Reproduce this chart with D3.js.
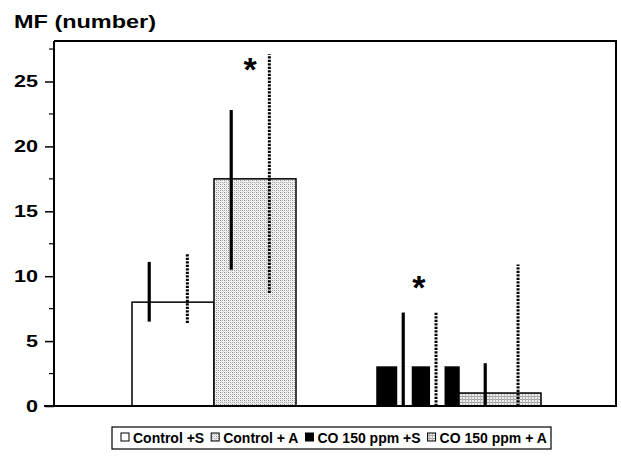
<!DOCTYPE html>
<html>
<head>
<meta charset="utf-8">
<script src="https://cdn.jsdelivr.net/npm/d3@7/dist/d3.min.js"></script>
<style>
  html, body { margin: 0; padding: 0; background: #fff; }
  svg { display: block; font-family: "Liberation Sans", Arial, sans-serif; font-weight: bold; }
</style>
</head>
<body>
<svg id="chart" width="621" height="458"></svg>
<script>
// Groups and series
const groups = ["Control", "CO 150 ppm"];
const series = ["S", "A"];
const legendLabels = ["Control +S", "Control + A", "CO 150 ppm +S", "CO 150 ppm + A"];

// Mean MF count per group, for +S and +A
const valuesS = [8, 3];
const valuesA = [17.5, 1];

// Error ranges (solid line), low/high
const solidLoS = [6.5, 0];
const solidHiS = [11.1, 7.2];
const solidLoA = [10.5, 0];
const solidHiA = [22.8, 3.3];

// Error ranges (dotted line), low/high
const dotLoS = [6.4, 0];
const dotHiS = [11.7, 7.25];
const dotLoA = [8.7, 0];
const dotHiA = [27.1, 10.9];

// Significance marks: group, level
const starGroups = ["Control", "CO 150 ppm"];
const starLevels = [26.3, 9.5];

const yTicks = [0, 5, 10, 15, 20, 25];
const yMinorTicks = [2.5, 7.5, 12.5, 17.5, 22.5, 27.5];

// Layout
const plot = { left: 54, right: 616, top: 41, bottom: 406 };
const errOffset = { "Control": [0.21, 0.675], "CO 150 ppm": [0.32, 0.72] };

const svg = d3.select("#chart");
const defs = svg.append("defs");

// Light stipple used for the +A series
const pat = defs.append("pattern").attr("id", "stipple")
  .attr("patternUnits", "userSpaceOnUse").attr("width", 4).attr("height", 4);
pat.append("rect").attr("width", 4).attr("height", 4).attr("fill", "#f4f4f4");
[[0, 0, "#8c8c8c"], [2, 0, "#b8b8b8"], [0, 2, "#a8a8a8"], [2, 2, "#9c9c9c"], [1, 1, "#dcdcdc"], [3, 3, "#d0d0d0"]]
  .forEach(([px, py, c]) => pat.append("rect").attr("x", px).attr("y", py)
    .attr("width", 1).attr("height", 1).attr("fill", c));

// Denser grid used for the CO +A series
const pat2 = defs.append("pattern").attr("id", "grid")
  .attr("patternUnits", "userSpaceOnUse").attr("width", 3).attr("height", 3);
pat2.append("rect").attr("width", 3).attr("height", 3).attr("fill", "#ececec");
pat2.append("rect").attr("x", 0).attr("y", 0).attr("width", 3).attr("height", 1).attr("fill", "#a0a0a0");
pat2.append("rect").attr("x", 0).attr("y", 0).attr("width", 1).attr("height", 3).attr("fill", "#b8b8b8");

const y = d3.scaleLinear().domain([0, 28.12]).range([plot.bottom, plot.top]);
const x0 = d3.scaleBand().domain(groups).range([132, 541]).paddingInner(0.3306).paddingOuter(0);
const x1 = d3.scaleBand().domain(series).range([0, x0.bandwidth()]);

const fills = {
  "Control|S": "#ffffff",
  "Control|A": "url(#stipple)",
  "CO 150 ppm|S": "#000000",
  "CO 150 ppm|A": "url(#grid)"
};

const rows = [];
groups.forEach((g, i) => {
  rows.push({ g, s: "S", v: valuesS[i], sLo: solidLoS[i], sHi: solidHiS[i], dLo: dotLoS[i], dHi: dotHiS[i] });
  rows.push({ g, s: "A", v: valuesA[i], sLo: solidLoA[i], sHi: solidHiA[i], dLo: dotLoA[i], dHi: dotHiA[i] });
});

// Bars
const barG = svg.append("g");
rows.forEach(r => {
  const bx = x0(r.g) + x1(r.s);
  barG.append("rect")
    .attr("x", bx).attr("y", y(r.v))
    .attr("width", x1.bandwidth()).attr("height", y(0) - y(r.v))
    .attr("fill", fills[r.g + "|" + r.s])
    .attr("stroke", "#000").attr("stroke-width", 1.5);
  // Solid fills get a white knock-out behind each error line
  if (fills[r.g + "|" + r.s] === "#000000") {
    errOffset[r.g].forEach(f => {
      const ex = bx + f * x1.bandwidth();
      barG.append("rect")
        .attr("x", ex - 6).attr("y", y(r.v) - 1)
        .attr("width", 14.5).attr("height", y(0) - y(r.v) + 1)
        .attr("fill", "#fff");
    });
  }
});

// Error lines
const errG = svg.append("g");
rows.forEach(r => {
  const bx = x0(r.g) + x1(r.s);
  const [fs, fd] = errOffset[r.g];
  errG.append("line")
    .attr("x1", bx + fs * x1.bandwidth()).attr("x2", bx + fs * x1.bandwidth())
    .attr("y1", y(r.sLo)).attr("y2", y(r.sHi))
    .attr("stroke", "#000").attr("stroke-width", 3.2);
  errG.append("line")
    .attr("x1", bx + fd * x1.bandwidth()).attr("x2", bx + fd * x1.bandwidth())
    .attr("y1", y(r.dLo)).attr("y2", y(r.dHi))
    .attr("stroke", "#000").attr("stroke-width", 3)
    .attr("stroke-dasharray", "2.2,1.3");
});

// Significance asterisks
starGroups.forEach((g, i) => {
  const cx = g === "Control" ? x0(g) + x1("A") + 0.44 * x1.bandwidth()
                             : x0(g) + x1("S") + 0.51 * x1.bandwidth();
  svg.append("text")
    .attr("x", cx).attr("y", y(starLevels[i]) + 16)
    .attr("text-anchor", "middle")
    .attr("font-size", 34)
    .text("*");
});

// Frame
svg.append("path")
  .attr("d", `M${plot.left},${plot.top}H${plot.right}V${plot.bottom}`)
  .attr("fill", "none").attr("stroke", "#000").attr("stroke-width", 2);
svg.append("line")
  .attr("x1", 44).attr("x2", plot.right + 1)
  .attr("y1", plot.bottom).attr("y2", plot.bottom)
  .attr("stroke", "#000").attr("stroke-width", 2);

// Y axis
const yAxis = d3.axisLeft(y).tickValues(yTicks).tickSize(9).tickPadding(7).tickSizeOuter(0);
const ya = svg.append("g").attr("transform", `translate(${plot.left},0)`).call(yAxis);
ya.select(".domain").attr("stroke-width", 2).attr("d", `M0,${plot.top}V${plot.bottom}`);
ya.selectAll(".tick line").attr("stroke-width", 1.5);
ya.selectAll(".tick text")
  .attr("font-size", 17).attr("font-weight", "bold").attr("fill", "#000")
  .attr("font-family", "Liberation Sans, Arial, sans-serif")
  .attr("lengthAdjust", "spacingAndGlyphs")
  .attr("textLength", d => String(d).length * 12);

// Minor ticks
svg.append("g").selectAll("line").data(yMinorTicks).join("line")
  .attr("x1", plot.left - 5).attr("x2", plot.left)
  .attr("y1", d => y(d)).attr("y2", d => y(d))
  .attr("stroke", "#000").attr("stroke-width", 1.2);

// Axis title
svg.append("text").attr("x", 14).attr("y", 28).attr("font-size", 19)
  .attr("lengthAdjust", "spacingAndGlyphs").attr("textLength", 142)
  .text("MF (number)");

// Legend: swatch + label laid out left to right
const leg = svg.append("g");
leg.append("rect").attr("x", 112).attr("y", 427).attr("width", 439).attr("height", 22)
  .attr("fill", "#fff").attr("stroke", "#000").attr("stroke-width", 1.2);
const legFills = ["#ffffff", "url(#stipple)", "#000000", "url(#grid)"];
let lx = 121;
legendLabels.forEach((lab, i) => {
  leg.append("rect").attr("x", lx).attr("y", 433).attr("width", 8).attr("height", 8)
    .attr("fill", legFills[i]).attr("stroke", "#000").attr("stroke-width", 1);
  const t = leg.append("text").attr("x", lx + 12).attr("y", 442.5)
    .attr("font-size", 14).text(lab);
  lx += 12 + t.node().getComputedTextLength() + 7;
});
</script>
</body>
</html>
